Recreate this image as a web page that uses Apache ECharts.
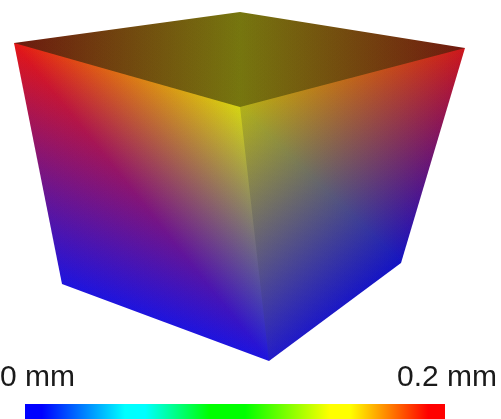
<!DOCTYPE html>
<html>
<head>
<meta charset="utf-8">
<style>html,body{margin:0;padding:0;background:#fff}#chart{width:501px;height:419px}</style>
<script src="https://cdn.jsdelivr.net/npm/echarts@6/dist/echarts.min.js"></script>
</head>
<body>
<div id="chart"></div>
<script>
// projected cube corners (x, y in picture units)
const cornerA = [14, 43];
const cornerB = [240, 12];
const cornerC = [465, 48];
const cornerD = [240, 107];
const cornerE = [62, 284];
const cornerF = [269, 361];
const cornerG = [401, 263];
const silhouette = [cornerA, cornerB, cornerC, cornerG, cornerF, cornerE];

// mesh triangles with per-vertex shaded colours
const triangles = [
  [cornerA, cornerB, cornerD],
  [cornerB, cornerC, cornerD],
  [cornerA, cornerD, cornerF],
  [cornerA, cornerF, cornerE],
  [cornerD, cornerC, cornerG],
  [cornerD, cornerG, cornerF]
];
const triangleColors = [
  [[108, 25, 15], [118, 118, 15], [118, 118, 15]],
  [[118, 118, 15], [112, 25, 15], [118, 118, 15]],
  [[228, 22, 22], [212, 212, 20], [30, 20, 222]],
  [[228, 22, 22], [30, 20, 222], [30, 20, 222]],
  [[178, 178, 25], [205, 22, 28], [20, 20, 195]],
  [[178, 178, 25], [20, 20, 195], [35, 28, 200]]
];

const rampColors = ['#0000ff', '#0000ff', '#00ffff', '#00ffff', '#00ff00', '#00ff00', '#ffff00', '#ffff00', '#ff0000', '#ff0000'];
const rampOffsets = [0, 0.04, 0.238, 0.286, 0.44, 0.524, 0.726, 0.774, 0.96, 1];
const rampRange = [0, 0.2];
const minLabel = '0 mm';
const maxLabel = '0.2 mm';

function vertexGradient(p, a, b, col) {
  // gradient from full colour at p to black on the opposite edge a-b
  const ex = b[0] - a[0], ey = b[1] - a[1];
  const t = ((p[0] - a[0]) * ex + (p[1] - a[1]) * ey) / (ex * ex + ey * ey);
  const fx = a[0] + t * ex, fy = a[1] + t * ey;
  return new echarts.graphic.LinearGradient(p[0], p[1], fx, fy, [
    { offset: 0, color: `rgb(${col[0]},${col[1]},${col[2]})` },
    { offset: 1, color: '#000' }
  ], true);
}

const chart = echarts.init(document.getElementById('chart'), null, { renderer: 'canvas' });
chart.setOption({
  backgroundColor: '#fff',
  animation: false,
  grid: [
    { left: 0, right: 0, top: 0, bottom: 0 },
    { left: 25, width: 420, top: 404, height: 15 }
  ],
  xAxis: [
    { type: 'value', gridIndex: 0, min: 0, max: 501, show: false },
    { type: 'value', gridIndex: 1, min: rampRange[0], max: rampRange[1], show: false }
  ],
  yAxis: [
    { type: 'value', gridIndex: 0, min: 0, max: 419, inverse: true, show: false },
    { type: 'value', gridIndex: 1, min: 0, max: 1, show: false }
  ],
  graphic: [
    { type: 'text', left: 0, top: 363, silent: true,
      style: { text: minLabel, font: '30px "Liberation Sans"', fill: '#1a1a1a' } },
    { type: 'text', right: 4, top: 363, silent: true,
      style: { text: maxLabel, font: '30px "Liberation Sans"', fill: '#1a1a1a' } }
  ],
  series: [
    {
      type: 'custom',
      silent: true,
      coordinateSystem: 'cartesian2d',
      data: [0],
      renderItem: function (params, api) {
        return {
          type: 'polygon',
          shape: { points: silhouette.map(p => api.coord(p)) },
          style: { fill: '#000' }
        };
      }
    },
    {
      type: 'custom',
      silent: true,
      blendMode: 'lighter',
      coordinateSystem: 'cartesian2d',
      data: triangles.map((t, i) => i),
      renderItem: function (params, api) {
        const i = params.dataIndex;
        const pts = triangles[i].map(p => api.coord(p));
        const cols = triangleColors[i];
        return {
          type: 'group',
          children: [0, 1, 2].map(k => ({
            type: 'polygon',
            shape: { points: pts },
            style: {
              fill: vertexGradient(pts[k], pts[(k + 1) % 3], pts[(k + 2) % 3], cols[k])
            }
          }))
        };
      }
    },
    {
      type: 'custom',
      silent: true,
      xAxisIndex: 1,
      yAxisIndex: 1,
      coordinateSystem: 'cartesian2d',
      data: [rampRange],
      renderItem: function (params, api) {
        const p0 = api.coord([api.value(0), 1]);
        const p1 = api.coord([api.value(1), 0]);
        const stops = rampColors.map((c, i) => ({ offset: rampOffsets[i], color: c }));
        return {
          type: 'rect',
          shape: { x: p0[0], y: p0[1], width: p1[0] - p0[0], height: p1[1] - p0[1] },
          style: { fill: new echarts.graphic.LinearGradient(0, 0, 1, 0, stops) }
        };
      }
    }
  ]
});
</script>
</body>
</html>
